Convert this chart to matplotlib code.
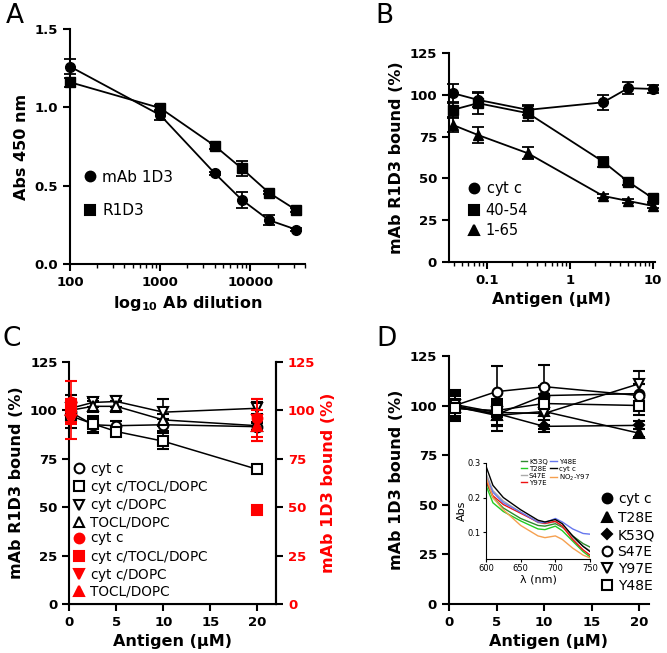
import numpy as np
import matplotlib
matplotlib.use('Agg')
import matplotlib.pyplot as plt
from matplotlib.lines import Line2D

plt.rcParams['font.family'] = ['DejaVu Sans']
plt.rcParams['mathtext.default'] = 'regular'

# ---- panel A: ELISA titration
a_dil = [100, 1000, 4000, 8000, 16000, 32000]
a_mab = [1.26, 0.95, 0.58, 0.41, 0.28, 0.22]
a_mab_err = [0.05, 0.03, 0.01, 0.05, 0.03, 0.01]
a_r1d3 = [1.16, 0.995, 0.755, 0.61, 0.455, 0.345]
a_r1d3_err = [0.03, 0.02, 0.02, 0.05, 0.01, 0.01]

# ---- panel B: competition with peptides
b_conc = [0.039, 0.078, 0.3125, 2.5, 5, 10]
b_cytc = [101, 97, 91, 95.5, 104, 103.5]
b_cytc_err = [5.5, 4, 3, 4.5, 3.5, 2.5]
b_4054 = [91, 95, 89, 60, 48, 38]
b_4054_err = [4, 6.5, 4.5, 3, 2, 2]
b_165 = [82, 76, 65, 39.5, 36.5, 33.5]
b_165_err = [4, 5, 3.5, 1, 1, 1]

# ---- panel C: lipid complexes
c_conc = [0.15, 2.5, 5, 10, 20]
c_labels = ['cyt $c$', 'cyt $c$/TOCL/DOPC', 'cyt $c$/DOPC', 'TOCL/DOPC']
c_black = [[99, 92.5, 92, 92.5, 91.5],
           [97, 93, 89, 84, 69.5],
           [101, 104, 104.5, 99, 101],
           [100, 102, 102, 95, 92]]
c_black_err = [[4, 4, 2.5, 3, 2],
               [6, 4, 2, 4, 2],
               [7, 2.5, 3, 7, 3],
               [5, 3, 3, 3, 2]]
c_red_conc = [0.15, 20]
c_red = [[104, 96], [102, 48.5], [95, 95], [100, 92]]
c_red_err = [[11, 10], [3, 1], [10, 11], [6, 8]]

# ---- panel D: mutants
d_conc = [0.625, 5, 10, 20]
d_labels = ['cyt $c$', 'T28E', 'K53Q', 'S47E', 'Y97E', 'Y48E']
d_vals = [[100, 95.5, 105, 106],
          [99.5, 95, 97, 86],
          [99, 96, 89.5, 90],
          [100, 107, 109.5, 105],
          [100.5, 96.5, 96, 111],
          [98.5, 97.5, 101, 100]]
d_err = [[8, 6, 5, 5],
         [6, 8, 9, 2],
         [6, 6, 3, 2],
         [7, 13, 11, 6],
         [6, 7, 6, 6.5],
         [5, 5, 5, 5]]
d_markers = ['o', '^', 'D', 'o', 'v', 's']
d_filled = [True, True, True, False, False, False]

# ---- panel D inset: spectra
wl = [600, 610, 625, 650, 675, 685, 700, 710, 725, 740, 750]
spectra = {
    'K53Q': [0.245, 0.2, 0.17, 0.14, 0.12, 0.118, 0.125, 0.115, 0.09, 0.068, 0.058],
    'T28E': [0.235, 0.185, 0.16, 0.133, 0.11, 0.108, 0.118, 0.105, 0.075, 0.045, 0.03],
    'S47E': [0.27, 0.22, 0.19, 0.158, 0.128, 0.125, 0.13, 0.118, 0.085, 0.06, 0.048],
    'Y97E': [0.25, 0.205, 0.18, 0.155, 0.13, 0.126, 0.132, 0.118, 0.08, 0.05, 0.035],
    'Y48E': [0.26, 0.215, 0.185, 0.158, 0.13, 0.128, 0.14, 0.13, 0.11, 0.097, 0.095],
    'cyt c': [0.29, 0.235, 0.2, 0.165, 0.135, 0.13, 0.137, 0.125, 0.09, 0.06, 0.045],
    'NO$_2$-Y97': [0.26, 0.2, 0.165, 0.12, 0.09, 0.085, 0.09, 0.08, 0.055, 0.035, 0.027],
}
spec_colors = {'K53Q': '#2e8b2e', 'T28E': '#22cc22', 'S47E': '#aaaaaa', 'Y97E': '#ee1111',
               'Y48E': '#6677ee', 'cyt c': '#000000', 'NO$_2$-Y97': '#f5a050'}

TICK_FS = 9.5
LAB_FS = 11.5


def style(ax, right=False):
    ax.spines['top'].set_visible(False)
    if not right:
        ax.spines['right'].set_visible(False)
    for s in ax.spines.values():
        s.set_linewidth(1.5)
    ax.tick_params(direction='out', width=1.5, length=5, labelsize=TICK_FS)
    ax.tick_params(which='minor', width=1, length=3)
    for t in ax.get_xticklabels() + ax.get_yticklabels():
        t.set_fontweight('bold')


def msize(m):
    return 5.5 if m == 'D' else 7


def marker_handle(m, filled=True, color='k'):
    return Line2D([], [], marker=m, ls='none', color=color, markersize=msize(m),
                  markerfacecolor=color if filled else 'white', markeredgewidth=1.5)


fig = plt.figure(figsize=(6.67, 6.53), dpi=100)

# ================= A
axA = fig.add_axes([0.105, 0.5957, 0.352, 0.360])
ekw = dict(color='k', capsize=4, elinewidth=1.3, capthick=1.3, lw=1.3, markersize=7, clip_on=False)
axA.errorbar(a_dil, a_mab, yerr=a_mab_err, fmt='-o', **ekw)
axA.errorbar(a_dil, a_r1d3, yerr=a_r1d3_err, fmt='-s', **ekw)
axA.set_xscale('log')
axA.set_xlim(100, 40000)
axA.set_ylim(0, 1.5)
axA.set_xticks([100, 1000, 10000])
axA.set_xticklabels(['100', '1000', '10000'])
axA.set_yticks([0, 0.5, 1.0, 1.5])
axA.set_yticklabels(['0.0', '0.5', '1.0', '1.5'])
style(axA)
axA.set_ylabel('Abs 450 nm', fontsize=LAB_FS, fontweight='bold')
axA.set_xlabel(r'$\mathbf{log_{10}}$ Ab dilution', fontsize=LAB_FS, fontweight='bold')
axA.legend([marker_handle('o'), marker_handle('s')], ['mAb 1D3', 'R1D3'],
           loc='upper left', bbox_to_anchor=(0.0, 0.46), frameon=False,
           handlelength=0.8, handletextpad=0.4, labelspacing=1.2, fontsize=11)

# ================= B
axB = fig.add_axes([0.673, 0.5988, 0.309, 0.320])
axB.errorbar(b_conc, b_cytc, yerr=b_cytc_err, fmt='-o', **ekw)
axB.errorbar(b_conc, b_4054, yerr=b_4054_err, fmt='-s', **ekw)
axB.errorbar(b_conc, b_165, yerr=b_165_err, fmt='-^', **ekw)
axB.set_xscale('log')
axB.set_xlim(0.035, 10.5)
axB.set_ylim(0, 125)
axB.set_xticks([0.1, 1, 10])
axB.set_xticklabels(['0.1', '1', '10'])
axB.set_yticks([0, 25, 50, 75, 100, 125])
style(axB)
axB.set_ylabel('mAb R1D3 bound (%)', fontsize=LAB_FS, fontweight='bold')
axB.set_xlabel('Antigen (µM)', fontsize=LAB_FS, fontweight='bold')
axB.legend([marker_handle('o'), marker_handle('s'), marker_handle('^')],
           ['cyt $c$', '40-54', '1-65'], loc='upper left', bbox_to_anchor=(0.03, 0.46),
           frameon=False, handlelength=0.8, handletextpad=0.4, labelspacing=0.35, fontsize=10.5)

# ================= C
axC = fig.add_axes([0.104, 0.0750, 0.310, 0.371])
c_markers = ['o', 's', 'v', '^']
ckw = dict(capsize=4, elinewidth=1.2, capthick=1.2, lw=1.1,
           markeredgewidth=1.5, clip_on=False)
for vals, err, m in zip(c_black, c_black_err, c_markers):
    axC.errorbar(c_conc, vals, yerr=err, fmt='-' + m, color='k', markerfacecolor='white',
                 markersize=msize(m), **ckw)
axC.set_xlim(0, 22)
axC.set_ylim(0, 125)
axC.set_xticks([0, 5, 10, 15, 20])
axC.set_yticks([0, 25, 50, 75, 100, 125])
style(axC, right=True)
axC.set_ylabel('mAb R1D3 bound (%)', fontsize=LAB_FS, fontweight='bold')
axC.set_xlabel('Antigen (µM)', fontsize=LAB_FS, fontweight='bold')

axC2 = axC.twinx()
for vals, err, m in zip(c_red, c_red_err, c_markers):
    axC2.errorbar(c_red_conc, vals, yerr=err, fmt=m, color='red', ecolor='red',
                  markersize=msize(m), **ckw)
axC2.set_ylim(0, 125)
axC2.set_yticks([0, 25, 50, 75, 100, 125])
axC2.spines['top'].set_visible(False)
axC2.spines['left'].set_visible(False)
axC2.spines['right'].set_linewidth(1.5)
axC2.tick_params(direction='out', width=1.5, length=5, labelsize=TICK_FS, labelcolor='red')
for t in axC2.get_yticklabels():
    t.set_fontweight('bold')
axC2.set_ylabel('mAb 1D3 bound (%)', fontsize=LAB_FS, fontweight='bold', color='red')
c_handles = [marker_handle(m, False) for m in c_markers] + \
            [marker_handle(m, True, 'red') for m in c_markers]
axC2.legend(c_handles, c_labels + c_labels, loc='upper left', bbox_to_anchor=(0.02, 0.59),
            frameon=False, handlelength=0.8, handletextpad=0.4, labelspacing=0.08,
            fontsize=9.8, borderaxespad=0, borderpad=0)

# ================= D
axD = fig.add_axes([0.673, 0.0750, 0.300, 0.380])
for vals, err, m, f in zip(d_vals, d_err, d_markers, d_filled):
    axD.errorbar(d_conc, vals, yerr=err, fmt='-' + m, color='k',
                 markerfacecolor='k' if f else 'white', markersize=msize(m), **ckw)
axD.set_xlim(0, 21)
axD.set_ylim(0, 125)
axD.set_xticks([0, 5, 10, 15, 20])
axD.set_yticks([0, 25, 50, 75, 100, 125])
style(axD)
axD.set_ylabel('mAb 1D3 bound (%)', fontsize=LAB_FS, fontweight='bold')
axD.set_xlabel('Antigen (µM)', fontsize=LAB_FS, fontweight='bold')
d_handles = [marker_handle(m, f) for m, f in zip(d_markers, d_filled)]
fig.legend(d_handles, d_labels, loc='upper left', bbox_to_anchor=(0.902, 0.248),
           frameon=False, handlelength=0.8, handletextpad=0.35, labelspacing=0.22,
           fontsize=10, borderaxespad=0, borderpad=0)

# inset
axI = fig.add_axes([0.7286, 0.1435, 0.156, 0.148])
for name, vals in spectra.items():
    axI.plot(wl, vals, color=spec_colors[name], lw=1.0, label=name)
axI.set_xlim(600, 750)
axI.set_ylim(0.023, 0.3)
axI.set_xticks([600, 650, 700, 750])
axI.set_yticks([0.1, 0.2, 0.3])
for s in ['top', 'right']:
    axI.spines[s].set_visible(False)
axI.tick_params(direction='out', length=2, width=0.8, labelsize=6, pad=1.5)
axI.set_xlabel('λ (nm)', fontsize=8, labelpad=1)
axI.set_ylabel('Abs', fontsize=8, labelpad=1)
axI.legend(ncol=2, loc='upper right', bbox_to_anchor=(1.0, 1.04), frameon=False,
           fontsize=5, handlelength=0.9, handletextpad=0.3, labelspacing=0.15,
           columnspacing=0.4, borderaxespad=0, borderpad=0)

# panel letters
for x, y, lab in [(0.008, 0.995, 'A'), (0.563, 0.995, 'B'), (0.003, 0.5, 'C'), (0.565, 0.5, 'D')]:
    fig.text(x, y, lab, fontsize=19, va='top', ha='left')

fig.savefig('out.png', dpi=100)
